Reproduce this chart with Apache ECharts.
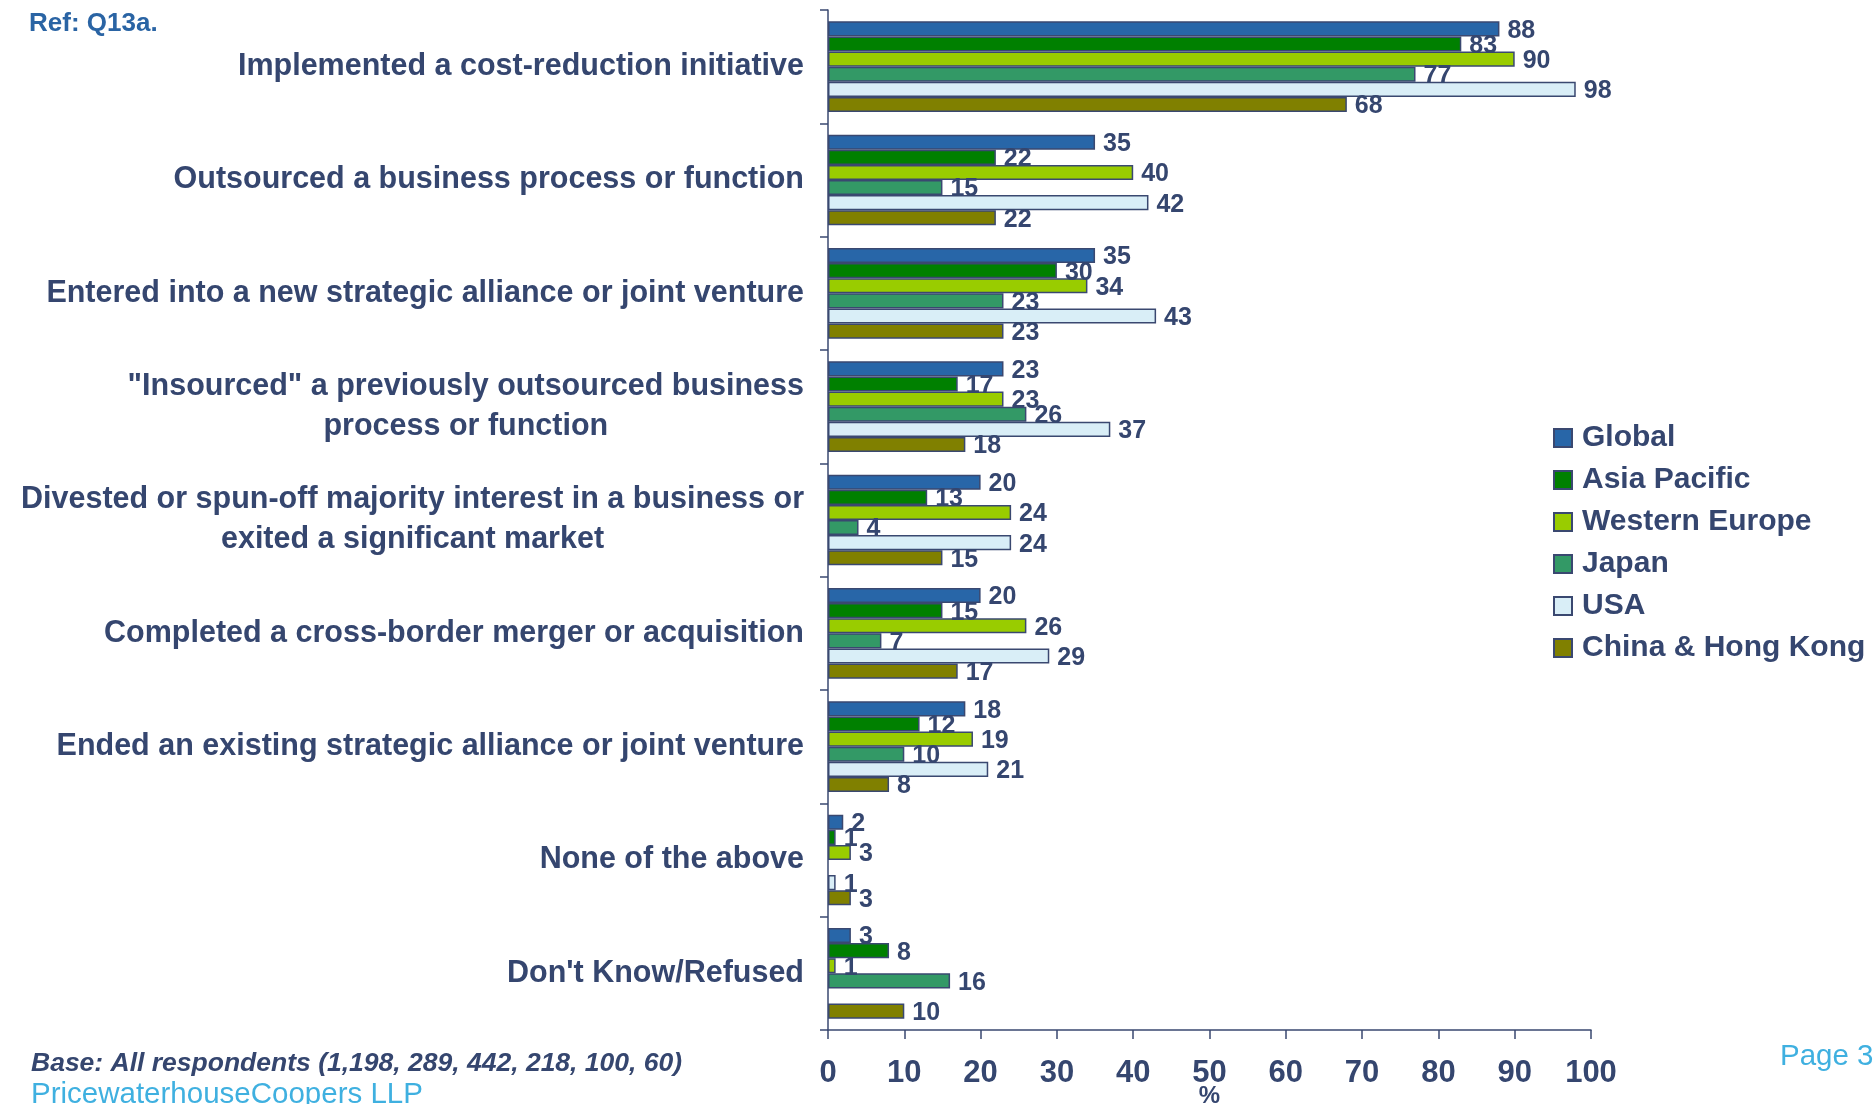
<!DOCTYPE html>
<html>
<head>
<meta charset="utf-8">
<script src="https://cdn.jsdelivr.net/npm/echarts@6/dist/echarts.min.js"></script>
<style>
  html, body { margin: 0; padding: 0; background: #fff; }
  #main { width: 1874px; height: 1104px; }
</style>
</head>
<body>
<div id="main"></div>
<script>
// categories, top to bottom
const categories = [
  'Implemented a cost-reduction initiative',
  'Outsourced a business process or function',
  'Entered into a new strategic alliance or joint venture',
  '"Insourced" a previously outsourced business\nprocess or function',
  'Divested or spun-off majority interest in a business or\nexited a significant market',
  'Completed a cross-border merger or acquisition',
  'Ended an existing strategic alliance or joint venture',
  'None of the above',
  "Don't Know/Refused"
]
const regions = ['Global', 'Asia Pacific', 'Western Europe', 'Japan', 'USA', 'China & Hong Kong']
const global = [88, 35, 35, 23, 20, 20, 18, 2, 3]
const asiaPacific = [83, 22, 30, 17, 13, 15, 12, 1, 8]
const westernEurope = [90, 40, 34, 23, 24, 26, 19, 3, 1]
const japan = [77, 15, 23, 26, 4, 7, 10, null, 16]
const usa = [98, 42, 43, 37, 24, 29, 21, 1, null]
const chinaHK = [68, 22, 23, 18, 15, 17, 8, 3, 10]
const xTicks = [0, 10, 20, 30, 40, 50, 60, 70, 80, 90, 100]

const navy = '#35466f'
const colors = ['#2866a8', '#008000', '#99cc00', '#339966', '#d9eef7', '#808000']
const values = [global, asiaPacific, westernEurope, japan, usa, chinaHK]
const font = '"Liberation Sans", Arial, sans-serif'

const series = regions.map(function (name, i) {
  return {
    name: name,
    type: 'bar',
    data: values[i],
    barGap: '0%',
    barCategoryGap: '20%',
    itemStyle: { color: colors[i], borderColor: '#3a4870', borderWidth: 1.5 },
    label: {
      show: true,
      position: 'right',
      distance: 8,
      offset: [0, 2],
      color: navy,
      fontSize: 25,
      fontWeight: 'bold',
      fontFamily: font
    }
  }
})

const myChart = echarts.init(document.getElementById('main'))
myChart.setOption({
  animation: false,
  textStyle: { fontFamily: font },
  grid: { left: 828, right: 283, top: 10, bottom: 74, outerBoundsMode: 'none', containLabel: false },
  legend: {
    orient: 'vertical',
    left: 1548,
    top: 418,
    icon: 'rect',
    itemWidth: 18,
    itemHeight: 18,
    itemGap: 12,
    textStyle: { color: navy, fontSize: 30, fontWeight: 'bold', fontFamily: font, padding: [0, 0, 0, 5] },
    data: regions
  },
  xAxis: {
    type: 'value',
    min: xTicks[0],
    max: xTicks[xTicks.length - 1],
    interval: 10,
    name: '%',
    nameLocation: 'middle',
    nameGap: 54,
    nameMoveOverlap: false,
    nameTextStyle: { color: navy, fontSize: 24, fontWeight: 'bold', fontFamily: font },
    splitLine: { show: false },
    axisLine: { show: true, lineStyle: { color: '#3a4870', width: 1.5 } },
    axisTick: { show: true, length: 9, lineStyle: { color: '#3a4870', width: 1.5 } },
    axisLabel: { color: navy, fontSize: 31, fontWeight: 'bold', fontFamily: font, margin: 28 }
  },
  yAxis: {
    type: 'category',
    inverse: true,
    data: categories,
    axisLine: { show: true, lineStyle: { color: '#3a4870', width: 1.5 } },
    axisTick: { show: true, length: 8, lineStyle: { color: '#3a4870', width: 1.5 } },
    axisLabel: {
      margin: 24,
      align: 'right',
      formatter: function (v) {
        return v.split('\n').map(function (s) { return '{c|' + s + '}' }).join('\n')
      },
      rich: {
        c: { align: 'center', color: navy, fontSize: 30.5, fontWeight: 'bold', fontFamily: font, lineHeight: 40 }
      }
    }
  },
  graphic: [
    { type: 'text', left: 29, top: 11, style: { text: 'Ref: Q13a.', fill: '#2a64a4', font: 'bold 26px ' + font } },
    { type: 'text', left: 31, top: 1050, style: { text: 'Base: All respondents (1,198, 289, 442, 218, 100, 60)', fill: navy, font: 'italic bold 26.5px ' + font } },
    { type: 'text', left: 31, top: 1080, style: { text: 'PricewaterhouseCoopers LLP', fill: '#3fb0e0', font: '29.5px ' + font } },
    { type: 'text', left: 1780, top: 1042, style: { text: 'Page 3', fill: '#3fb0e0', font: '29.5px ' + font } }
  ],
  series: series
})
window.onresize = myChart.resize
</script>
</body>
</html>
